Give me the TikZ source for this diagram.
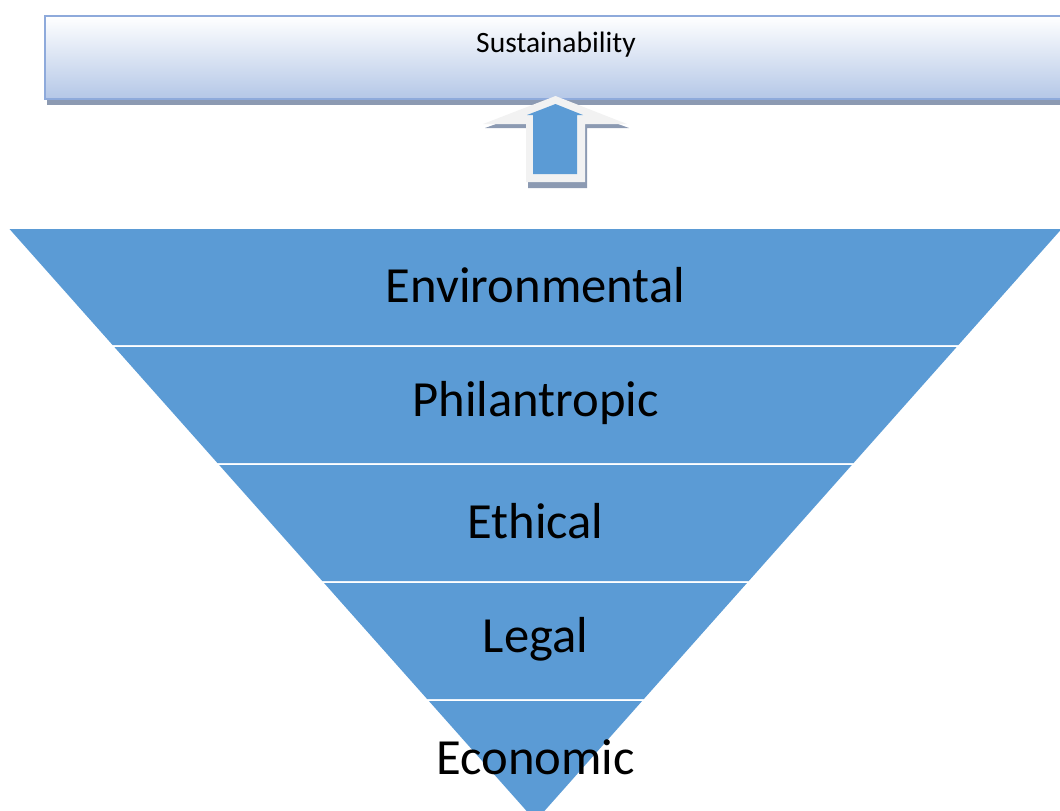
\documentclass[tikz,border=0pt]{standalone}
\usepackage{fontspec}
\setmainfont{Carlito}
\usepackage{xcolor}
\usetikzlibrary{shadows}

\definecolor{layerblue}{HTML}{5B9BD5}
\definecolor{barline}{HTML}{8EAADB}
\definecolor{barlow}{HTML}{B4C7E7}
\definecolor{shadowgray}{HTML}{8C9AB2}
\definecolor{arrowrim}{HTML}{F2F2F2}

\tikzset{
  layer/.style={fill=layerblue, draw=none},
  label/.style={font=\fontsize{36}{40}\selectfont, text=black, inner sep=0pt},
  bar/.style={draw=barline, line width=1.5pt, top color=white, bottom color=barlow,
    minimum width=25.9cm, minimum height=2.075cm, inner sep=0pt,
    drop shadow={shadow xshift=0.05cm, shadow yshift=-0.15cm, fill=shadowgray, opacity=1}},
}

\begin{document}
\begin{tikzpicture}[x=0.025cm, y=-0.025cm]
 \useasboundingbox (0,0) rectangle (1060,810);
 \clip (0,0) rectangle (1060,810);

 % banner across the top
 \node[bar, anchor=north west] (sus) at (44,15) {};
 \node[font=\fontsize{21}{24}\selectfont] (sustext) at (556,45) {Sustainability};

 % up arrow: shadow, light rim, blue core
 \def\ax{555.5}
 \fill[shadowgray] (\ax+2,102) -- (629,128) -- (587,128) -- (587,188) -- (528,188) -- (528,128) -- (485,128) -- cycle;
 \fill[arrowrim] (\ax,96) -- (627,124) -- (585,124) -- (585,182) -- (526,182) -- (526,124) -- (483,124) -- cycle;
 \fill[layerblue] (\ax,104) -- (583,115) -- (577,115) -- (577,174) -- (533,174) -- (533,115) -- (527,115) -- cycle;

 % inverted pyramid, one band per level
 \def\cx{535.5} \def\apex{821} \def\k{0.8885}
 \foreach \ya/\yb/\name/\txt/\ty in {229/345/env/Environmental/285,
                                     347/463/phil/Philantropic/403,
                                     465/581/eth/Ethical/521,
                                     583/699/leg/Legal/639,
                                     701/821/eco/Economic/757} {
  \fill[layer] ({\cx-\k*(\apex-\ya)},\ya) -- ({\cx+\k*(\apex-\ya)},\ya)
     -- ({\cx+\k*(\apex-\yb)},\yb) -- ({\cx-\k*(\apex-\yb)},\yb) -- cycle;
  \node[label] (\name) at (\cx,\ty) {\txt};
 }

\end{tikzpicture}
\end{document}
